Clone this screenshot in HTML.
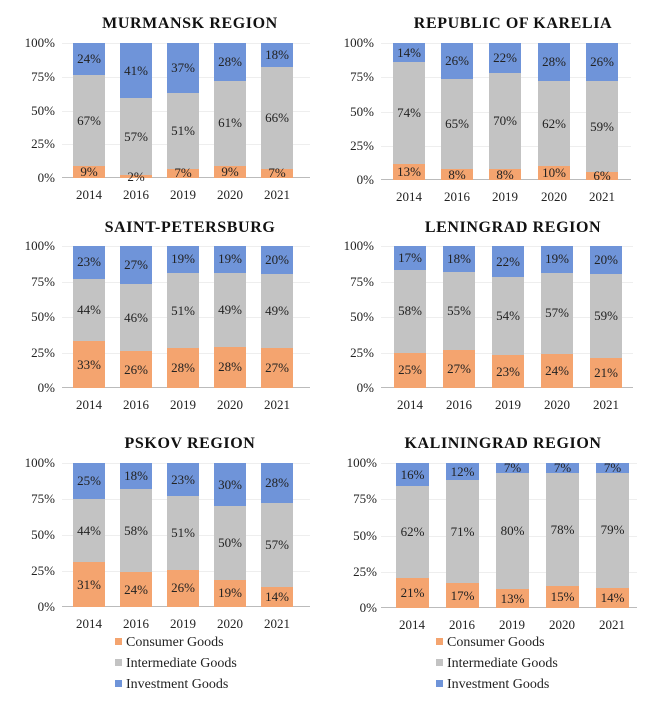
<!DOCTYPE html>
<html><head><meta charset="utf-8"><style>
body{margin:0;width:660px;height:713px;background:#fff;position:relative;overflow:hidden;font-family:"Liberation Serif",serif;color:#222}
.t{position:absolute;font-weight:bold;font-size:16px;letter-spacing:.6px;white-space:nowrap;transform:translateX(-50%);color:#111}
.c{position:absolute}
.g{position:absolute;left:0;right:0;height:1px;background:#eee}
.ax{position:absolute;left:0;right:0;bottom:0;height:1px;background:#bbb}
.yl{position:absolute;font-size:13px;text-align:right;width:40px;transform:translateY(-50%)}
.b{position:absolute;top:0;bottom:0;display:flex;flex-direction:column}
.b div{display:flex;align-items:center;justify-content:center;font-size:13px;overflow:visible;min-height:0;white-space:nowrap}
.i{background:#6f94d9}.m{background:#c3c3c3}.o{background:#f4a46f}
.x{position:absolute;font-size:13px;transform:translateX(-50%);white-space:nowrap}
.lg{position:absolute;font-size:14px;white-space:nowrap}
.lg span{display:inline-block;width:7px;height:7px;margin-right:4px;vertical-align:1px}
</style></head><body>

<div class="t" style="left:190px;top:15px">MURMANSK REGION</div>
<div class="c" style="left:62px;top:43px;width:248px;height:135px">
<div class="g" style="top:0"></div><div class="g" style="top:25%"></div><div class="g" style="top:50%"></div><div class="g" style="top:75%"></div><div class="ax"></div>
<div class="yl" style="left:-47px;top:0">100%</div><div class="yl" style="left:-47px;top:25%">75%</div><div class="yl" style="left:-47px;top:50%">50%</div><div class="yl" style="left:-47px;top:75%">25%</div><div class="yl" style="left:-47px;top:100%">0%</div>
<div class="b" style="left:11px;width:32px"><div class="i" style="flex:24">24%</div><div class="m" style="flex:67">67%</div><div class="o" style="flex:9">9%</div></div>
<div class="b" style="left:58px;width:32px"><div class="i" style="flex:41">41%</div><div class="m" style="flex:57">57%</div><div class="o" style="flex:2">2%</div></div>
<div class="b" style="left:105px;width:32px"><div class="i" style="flex:37">37%</div><div class="m" style="flex:56">51%</div><div class="o" style="flex:7">7%</div></div>
<div class="b" style="left:152px;width:32px"><div class="i" style="flex:28">28%</div><div class="m" style="flex:63">61%</div><div class="o" style="flex:9">9%</div></div>
<div class="b" style="left:199px;width:32px"><div class="i" style="flex:18">18%</div><div class="m" style="flex:75">66%</div><div class="o" style="flex:7">7%</div></div>
<div class="x" style="left:27px;top:144px">2014</div><div class="x" style="left:74px;top:144px">2016</div><div class="x" style="left:121px;top:144px">2019</div><div class="x" style="left:168px;top:144px">2020</div><div class="x" style="left:215px;top:144px">2021</div>
</div>

<div class="t" style="left:513px;top:15px">REPUBLIC OF KARELIA</div>
<div class="c" style="left:381px;top:43px;width:250px;height:137px">
<div class="g" style="top:0"></div><div class="g" style="top:25%"></div><div class="g" style="top:50%"></div><div class="g" style="top:75%"></div><div class="ax"></div>
<div class="yl" style="left:-47px;top:0">100%</div><div class="yl" style="left:-47px;top:25%">75%</div><div class="yl" style="left:-47px;top:50%">50%</div><div class="yl" style="left:-47px;top:75%">25%</div><div class="yl" style="left:-47px;top:100%">0%</div>
<div class="b" style="left:12px;width:32px"><div class="i" style="flex:14">14%</div><div class="m" style="flex:74">74%</div><div class="o" style="flex:12">13%</div></div>
<div class="b" style="left:60px;width:32px"><div class="i" style="flex:26">26%</div><div class="m" style="flex:66">65%</div><div class="o" style="flex:8">8%</div></div>
<div class="b" style="left:108px;width:32px"><div class="i" style="flex:22">22%</div><div class="m" style="flex:70">70%</div><div class="o" style="flex:8">8%</div></div>
<div class="b" style="left:157px;width:32px"><div class="i" style="flex:28">28%</div><div class="m" style="flex:62">62%</div><div class="o" style="flex:10">10%</div></div>
<div class="b" style="left:205px;width:32px"><div class="i" style="flex:28">26%</div><div class="m" style="flex:66">59%</div><div class="o" style="flex:6">6%</div></div>
<div class="x" style="left:28px;top:146px">2014</div><div class="x" style="left:76px;top:146px">2016</div><div class="x" style="left:124px;top:146px">2019</div><div class="x" style="left:173px;top:146px">2020</div><div class="x" style="left:221px;top:146px">2021</div>
</div>

<div class="t" style="left:190px;top:219px">SAINT-PETERSBURG</div>
<div class="c" style="left:62px;top:246px;width:248px;height:142px">
<div class="g" style="top:0"></div><div class="g" style="top:25%"></div><div class="g" style="top:50%"></div><div class="g" style="top:75%"></div><div class="ax"></div>
<div class="yl" style="left:-47px;top:0">100%</div><div class="yl" style="left:-47px;top:25%">75%</div><div class="yl" style="left:-47px;top:50%">50%</div><div class="yl" style="left:-47px;top:75%">25%</div><div class="yl" style="left:-47px;top:100%">0%</div>
<div class="b" style="left:11px;width:32px"><div class="i" style="flex:23">23%</div><div class="m" style="flex:44">44%</div><div class="o" style="flex:33">33%</div></div>
<div class="b" style="left:58px;width:32px"><div class="i" style="flex:27">27%</div><div class="m" style="flex:47">46%</div><div class="o" style="flex:26">26%</div></div>
<div class="b" style="left:105px;width:32px"><div class="i" style="flex:19">19%</div><div class="m" style="flex:53">51%</div><div class="o" style="flex:28">28%</div></div>
<div class="b" style="left:152px;width:32px"><div class="i" style="flex:19">19%</div><div class="m" style="flex:52">49%</div><div class="o" style="flex:29">28%</div></div>
<div class="b" style="left:199px;width:32px"><div class="i" style="flex:20">20%</div><div class="m" style="flex:52">49%</div><div class="o" style="flex:28">27%</div></div>
<div class="x" style="left:27px;top:151px">2014</div><div class="x" style="left:74px;top:151px">2016</div><div class="x" style="left:121px;top:151px">2019</div><div class="x" style="left:168px;top:151px">2020</div><div class="x" style="left:215px;top:151px">2021</div>
</div>

<div class="t" style="left:513px;top:219px">LENINGRAD REGION</div>
<div class="c" style="left:381px;top:246px;width:252px;height:142px">
<div class="g" style="top:0"></div><div class="g" style="top:25%"></div><div class="g" style="top:50%"></div><div class="g" style="top:75%"></div><div class="ax"></div>
<div class="yl" style="left:-47px;top:0">100%</div><div class="yl" style="left:-47px;top:25%">75%</div><div class="yl" style="left:-47px;top:50%">50%</div><div class="yl" style="left:-47px;top:75%">25%</div><div class="yl" style="left:-47px;top:100%">0%</div>
<div class="b" style="left:13px;width:32px"><div class="i" style="flex:17">17%</div><div class="m" style="flex:58">58%</div><div class="o" style="flex:25">25%</div></div>
<div class="b" style="left:62px;width:32px"><div class="i" style="flex:18">18%</div><div class="m" style="flex:55">55%</div><div class="o" style="flex:27">27%</div></div>
<div class="b" style="left:111px;width:32px"><div class="i" style="flex:22">22%</div><div class="m" style="flex:55">54%</div><div class="o" style="flex:23">23%</div></div>
<div class="b" style="left:160px;width:32px"><div class="i" style="flex:19">19%</div><div class="m" style="flex:57">57%</div><div class="o" style="flex:24">24%</div></div>
<div class="b" style="left:209px;width:32px"><div class="i" style="flex:20">20%</div><div class="m" style="flex:59">59%</div><div class="o" style="flex:21">21%</div></div>
<div class="x" style="left:29px;top:151px">2014</div><div class="x" style="left:78px;top:151px">2016</div><div class="x" style="left:127px;top:151px">2019</div><div class="x" style="left:176px;top:151px">2020</div><div class="x" style="left:225px;top:151px">2021</div>
</div>

<div class="t" style="left:190px;top:435px">PSKOV REGION</div>
<div class="c" style="left:62px;top:463px;width:248px;height:144px">
<div class="g" style="top:0"></div><div class="g" style="top:25%"></div><div class="g" style="top:50%"></div><div class="g" style="top:75%"></div><div class="ax"></div>
<div class="yl" style="left:-47px;top:0">100%</div><div class="yl" style="left:-47px;top:25%">75%</div><div class="yl" style="left:-47px;top:50%">50%</div><div class="yl" style="left:-47px;top:75%">25%</div><div class="yl" style="left:-47px;top:100%">0%</div>
<div class="b" style="left:11px;width:32px"><div class="i" style="flex:25">25%</div><div class="m" style="flex:44">44%</div><div class="o" style="flex:31">31%</div></div>
<div class="b" style="left:58px;width:32px"><div class="i" style="flex:18">18%</div><div class="m" style="flex:58">58%</div><div class="o" style="flex:24">24%</div></div>
<div class="b" style="left:105px;width:32px"><div class="i" style="flex:23">23%</div><div class="m" style="flex:51">51%</div><div class="o" style="flex:26">26%</div></div>
<div class="b" style="left:152px;width:32px"><div class="i" style="flex:30">30%</div><div class="m" style="flex:51">50%</div><div class="o" style="flex:19">19%</div></div>
<div class="b" style="left:199px;width:32px"><div class="i" style="flex:28">28%</div><div class="m" style="flex:58">57%</div><div class="o" style="flex:14">14%</div></div>
<div class="x" style="left:27px;top:153px">2014</div><div class="x" style="left:74px;top:153px">2016</div><div class="x" style="left:121px;top:153px">2019</div><div class="x" style="left:168px;top:153px">2020</div><div class="x" style="left:215px;top:153px">2021</div>
</div>

<div class="t" style="left:503px;top:435px">KALININGRAD REGION</div>
<div class="c" style="left:381px;top:463px;width:256px;height:145px">
<div class="g" style="top:0"></div><div class="g" style="top:25%"></div><div class="g" style="top:50%"></div><div class="g" style="top:75%"></div><div class="ax"></div>
<div class="yl" style="left:-44px;top:0">100%</div><div class="yl" style="left:-44px;top:25%">75%</div><div class="yl" style="left:-44px;top:50%">50%</div><div class="yl" style="left:-44px;top:75%">25%</div><div class="yl" style="left:-44px;top:100%">0%</div>
<div class="b" style="left:15px;width:33px"><div class="i" style="flex:16">16%</div><div class="m" style="flex:63">62%</div><div class="o" style="flex:21">21%</div></div>
<div class="b" style="left:65px;width:33px"><div class="i" style="flex:12">12%</div><div class="m" style="flex:71">71%</div><div class="o" style="flex:17">17%</div></div>
<div class="b" style="left:115px;width:33px"><div class="i" style="flex:7">7%</div><div class="m" style="flex:80">80%</div><div class="o" style="flex:13">13%</div></div>
<div class="b" style="left:165px;width:33px"><div class="i" style="flex:7">7%</div><div class="m" style="flex:78">78%</div><div class="o" style="flex:15">15%</div></div>
<div class="b" style="left:215px;width:33px"><div class="i" style="flex:7">7%</div><div class="m" style="flex:79">79%</div><div class="o" style="flex:14">14%</div></div>
<div class="x" style="left:31px;top:154px">2014</div><div class="x" style="left:81px;top:154px">2016</div><div class="x" style="left:131px;top:154px">2019</div><div class="x" style="left:181px;top:154px">2020</div><div class="x" style="left:231px;top:154px">2021</div>
</div>

<div class="lg" style="left:115px;top:635px"><span class="o"></span>Consumer Goods</div>
<div class="lg" style="left:115px;top:656px"><span class="m"></span>Intermediate Goods</div>
<div class="lg" style="left:115px;top:677px"><span class="i"></span>Investment Goods</div>
<div class="lg" style="left:436px;top:635px"><span class="o"></span>Consumer Goods</div>
<div class="lg" style="left:436px;top:656px"><span class="m"></span>Intermediate Goods</div>
<div class="lg" style="left:436px;top:677px"><span class="i"></span>Investment Goods</div>
</body></html>
